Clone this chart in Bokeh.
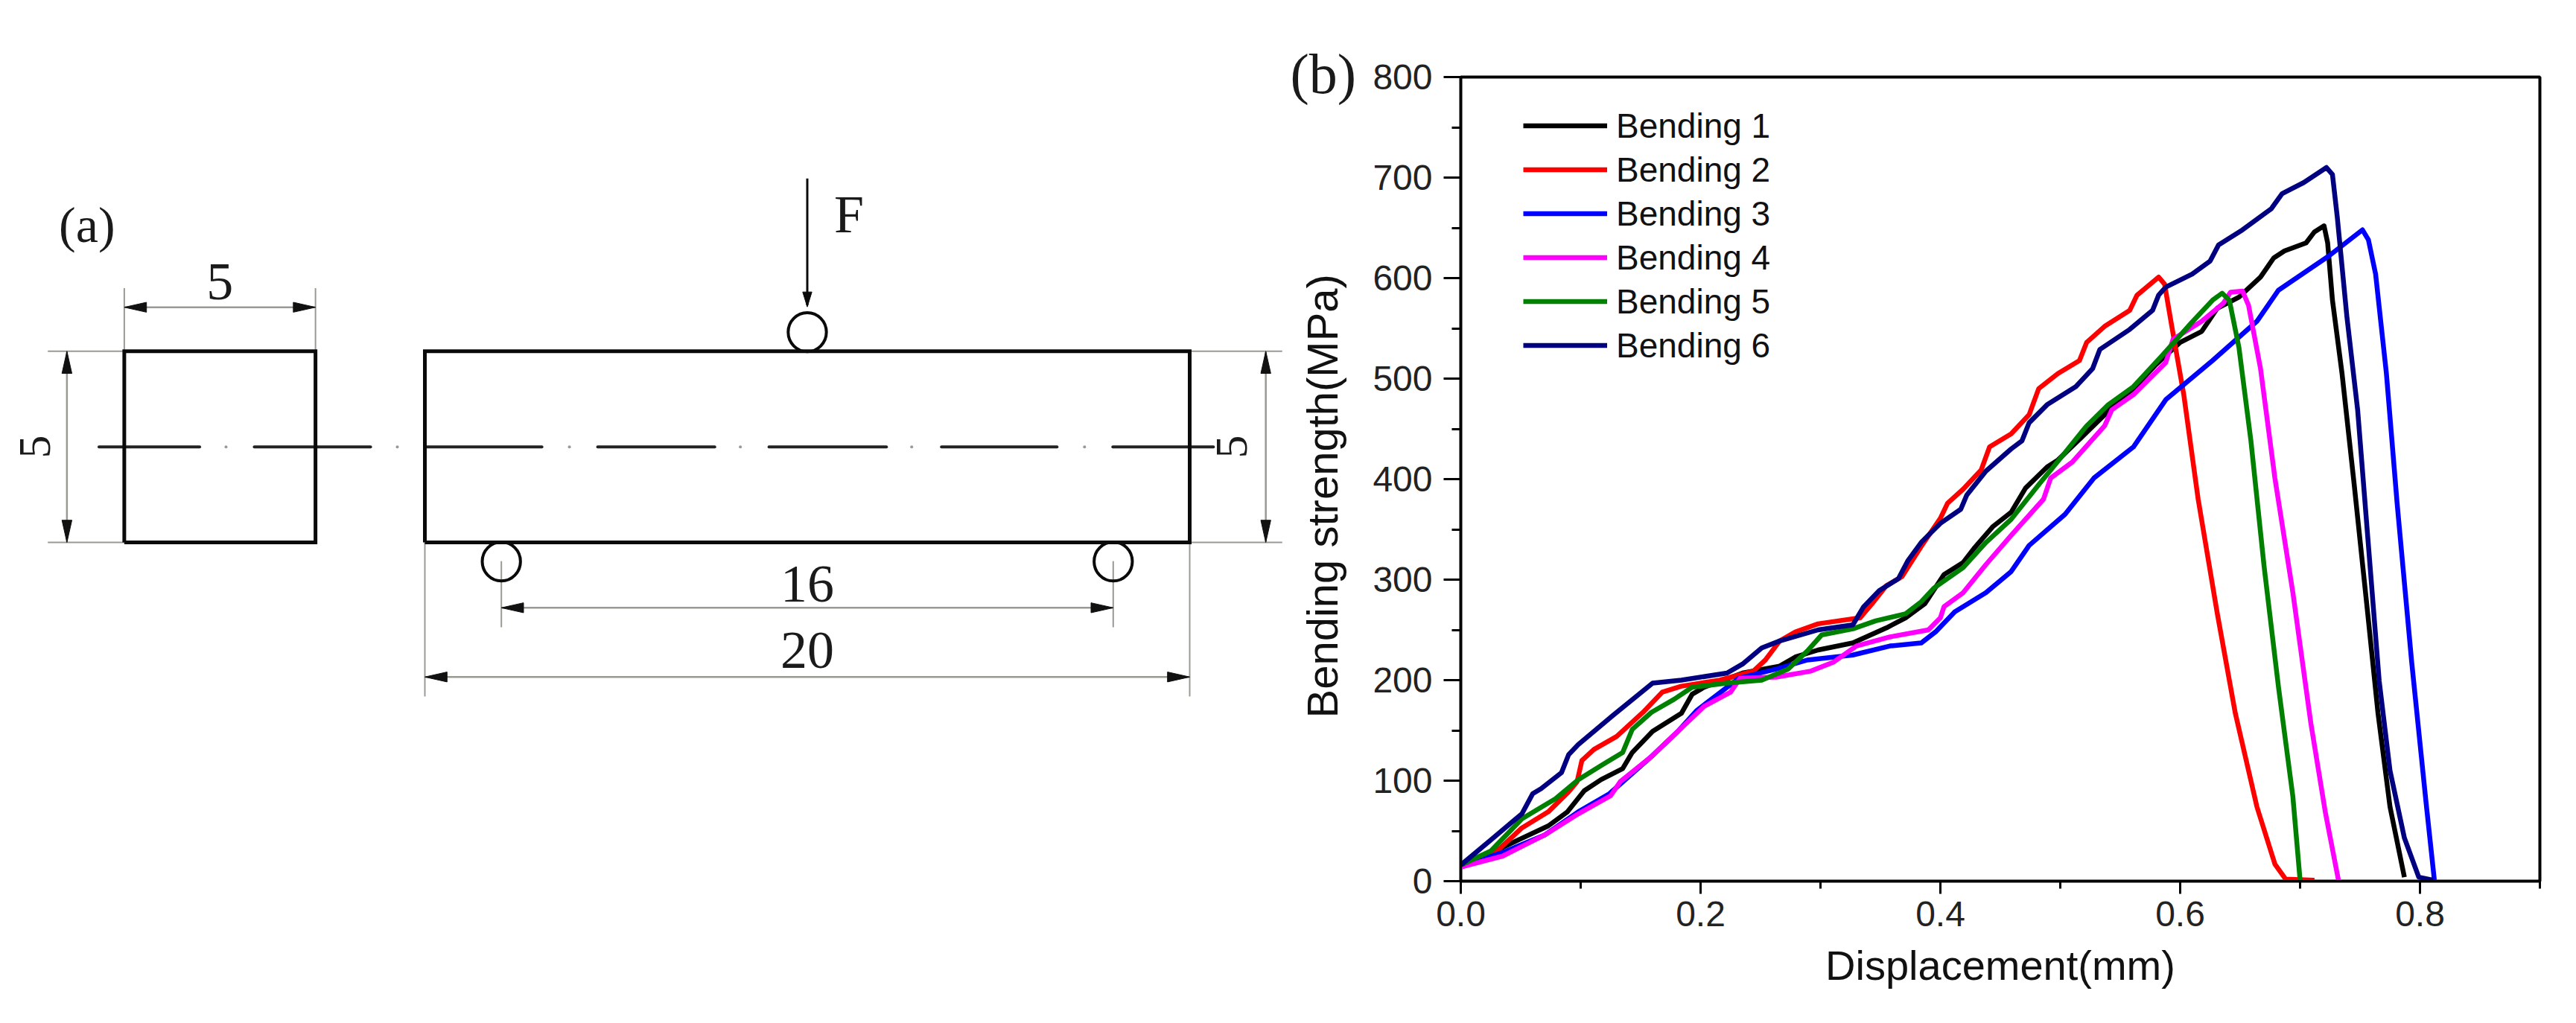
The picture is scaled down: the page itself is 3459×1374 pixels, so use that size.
from bokeh.plotting import figure
from bokeh.layouts import row
from bokeh.models import Range1d, FixedTicker, Legend, LegendItem, Title, NumeralTickFormatter
from bokeh.core.properties import value
from bokeh.embed import file_html
from bokeh.resources import INLINE

SANS = "Liberation Sans"
SERIF = "Liberation Serif"

# ---------- panel (b) data ----------
x1 = [0,.025,.048,.073,.089,.103,.117,.135,.143,.160,.184,.193,.203,.235,.266,.279,.298,.327,.355,.371,.387,.403,.419,.428,.444,.459,.471,.489,.498,.519,.537,.540,.561,.579,.600,.618,.631,.649,.667,.678,.687,.705,.712,.720,.723,.727,.735,.745,.756,.765,.775,.787]
y1 = [16,28,41,55,69,90,101,112,128,149,167,186,193,207,214,223,230,237,252,262,276,305,317,331,353,367,391,412,419,443,464,471,490,513,536,547,570,581,601,620,627,635,646,652,635,578,505,396,271,167,74,4]
x2 = [0,.032,.051,.073,.090,.097,.101,.111,.130,.152,.168,.184,.216,.244,.254,.266,.279,.298,.333,.343,.355,.368,.384,.400,.406,.419,.434,.441,.459,.474,.482,.498,.516,.522,.537,.558,.564,.582,.587,.593,.603,.615,.631,.646,.664,.679,.688,.712]
y2 = [16,32,53,69,89,99,120,131,144,168,188,194,200,209,220,239,248,256,262,276,294,303,333,361,376,390,409,432,445,464,490,505,518,536,552,568,583,601,594,552,484,380,266,167,74,17,2,1]
x3 = [0,.038,.070,.098,.124,.159,.181,.197,.232,.263,.289,.327,.358,.384,.396,.412,.438,.459,.474,.504,.528,.561,.588,.627,.664,.682,.724,.752,.757,.763,.772,.781,.793,.805,.812]
y3 = [14,30,46,69,87,124,149,170,202,211,220,225,234,237,248,268,287,308,334,365,401,432,479,518,557,588,622,648,638,604,505,375,219,79,1]
x4 = [0,.035,.070,.098,.125,.133,.159,.181,.203,.225,.233,.263,.292,.311,.330,.358,.390,.400,.403,.419,.438,.459,.486,.492,.510,.537,.543,.561,.588,.594,.618,.636,.642,.652,.657,.667,.679,.694,.709,.721,.732]
y4 = [14,25,46,67,85,99,124,149,174,188,202,203,209,218,234,243,250,262,273,287,315,344,380,401,417,453,469,484,516,539,557,575,586,587,573,510,401,287,157,69,1]
x5 = [0,.025,.051,.079,.098,.117,.135,.143,.159,.178,.193,.222,.251,.273,.289,.301,.327,.346,.371,.384,.395,.419,.438,.459,.483,.501,.522,.540,.561,.585,.609,.627,.635,.641,.649,.659,.670,.682,.694,.700]
y5 = [16,30,62,82,101,115,128,151,168,181,193,197,200,211,229,245,251,259,266,278,292,312,337,360,396,422,453,474,492,523,555,578,585,578,531,438,313,193,84,1]
x6 = [0,.025,.051,.060,.067,.084,.090,.098,.127,.160,.184,.222,.235,.251,.266,.298,.327,.336,.349,.365,.373,.384,.400,.417,.422,.438,.459,.468,.474,.489,.513,.527,.533,.558,.577,.582,.588,.610,.625,.632,.652,.676,.685,.703,.722,.727,.731,.739,.748,.757,.766,.775,.787,.799,.811]
y6 = [16,41,67,87,92,108,126,136,165,197,200,207,216,232,239,250,255,273,289,301,319,337,356,370,384,408,430,438,456,474,492,510,529,549,568,583,591,604,617,633,648,669,684,695,710,703,661,562,469,334,199,110,43,4,1]

series_names = ["Bending 1", "Bending 2", "Bending 3", "Bending 4", "Bending 5", "Bending 6"]
series_colors = ["#000000", "#ff0000", "#0000ff", "#ff00ff", "#008000", "#000080"]
x_major = [0, .2, .4, .6, .8]
x_minor = [.1, .3, .5, .7, .9]
y_major = [0, 100, 200, 300, 400, 500, 600, 700, 800]
y_minor = [50, 150, 250, 350, 450, 550, 650, 750]

# ---------- panel (a) dimensions, in mm ----------
beam_len = 20
beam_h = 5
span = 16
section_x = -7.86
roller_d = 1.0

PX_MM = 51.35
ORIGIN_X, ORIGIN_Y = 570, 728   # page position of the beam's lower left corner
SPLIT = 1726                    # page x where panel (a)'s figure ends
OVERLAP = 36                    # panel (b)'s transparent border lies over panel (a)'s edge
PAGE_H = 1360
FR_L, FR_R, FR_T, FR_B = 1961, 3410, 103, 1183
PAGE_R = 3455

a = figure(width=SPLIT, height=PAGE_H,
           x_range=Range1d(-ORIGIN_X / PX_MM, (SPLIT - ORIGIN_X) / PX_MM),
           y_range=Range1d((ORIGIN_Y - FR_B) / PX_MM, (ORIGIN_Y - FR_T) / PX_MM),
           output_backend="svg", toolbar_location=None,
           x_axis_location=None, y_axis_location=None,
           min_border_left=0, min_border_right=0,
           min_border_top=FR_T, min_border_bottom=PAGE_H - FR_B)
a.grid.visible = False
a.outline_line_color = None
a.background_fill_color = "white"

GRAY = "#9a9a94"
ext_x = [[section_x, section_x], [section_x + 5, section_x + 5],
         [-9.86, section_x], [-9.86, section_x],
         [beam_len, 22.42], [beam_len, 22.42],
         [0, 0], [beam_len, beam_len], [2, 2], [18, 18]]
ext_y = [[beam_h, 6.65], [beam_h, 6.65],
         [beam_h, beam_h], [0, 0],
         [beam_h, beam_h], [0, 0],
         [0, -4.03], [0, -4.03], [-0.49, -2.22], [-0.49, -2.22]]
dim_x = [[section_x, section_x + 5], [-9.36, -9.36], [21.99, 21.99], [0, beam_len], [2, 18]]
dim_y = [[6.15, 6.15], [0, beam_h], [0, beam_h], [-3.52, -3.52], [-1.71, -1.71]]
a.multi_line(ext_x, ext_y, line_color=GRAY, line_width=2)
a.multi_line(dim_x, dim_y, line_color=GRAY, line_width=2.5)

AL, AW = 0.58, 0.13
hx, hy = [], []
for (xa, xb), (ya, yb) in zip(dim_x, dim_y):
    if ya == yb:
        hx += [[xa, xa + AL, xa + AL], [xb, xb - AL, xb - AL]]
        hy += [[ya, ya + AW, ya - AW], [yb, yb + AW, yb - AW]]
    else:
        hx += [[xa, xa + AW, xa - AW], [xb, xb + AW, xb - AW]]
        hy += [[ya, ya + AL, ya + AL], [yb, yb - AL, yb - AL]]
a.patches(hx, hy, fill_color="#111111", line_color="#111111", line_width=1)

# centre line
dash_x = [[-8.52, -5.89], [-4.46, -1.42], [0.02, 3.06], [4.52, 7.58], [9.0, 12.07], [13.51, 16.53], [17.99, 20.62]]
dash_y = [[beam_h / 2] * 2 for _ in dash_x]
dot_x = [-5.20, -0.72, 3.78, 8.25, 12.73, 17.25]
a.multi_line(dash_x, dash_y, line_color="#222222", line_width=4, line_cap="round")
a.scatter(dot_x, [beam_h / 2] * len(dot_x), size=4, marker="circle", fill_color=GRAY, line_color=None)

# bodies
a.multi_line([[section_x, section_x + 5, section_x + 5, section_x, section_x],
              [0, beam_len, beam_len, 0, 0]],
             [[0, 0, beam_h, beam_h, 0], [0, 0, beam_h, beam_h, 0]],
             line_color="#0a0a0a", line_width=5, line_join="miter")

# rollers and load
a.ellipse([beam_len / 2, 2, 18], [beam_h + roller_d / 2, -roller_d / 2, -roller_d / 2],
          width=roller_d, height=roller_d * 1.02,
          fill_color=None, line_color="#0a0a0a", line_width=4)
a.line([beam_len / 2, beam_len / 2], [9.52, 6.2], line_color="#0a0a0a", line_width=3)
a.patch([beam_len / 2, beam_len / 2 + .12, beam_len / 2 - .12], [6.16, 6.55, 6.55],
        fill_color="#0a0a0a", line_color="#0a0a0a")

def serif(x, y, t, size, angle=0.0, align="center"):
    a.text([x], [y], text=[t], text_font=value(SERIF), text_font_size=f"{size}px",
           text_color="#1a1a1a", text_align=align, text_baseline="middle", angle=angle)

serif(-9.57, 8.31, "(a)", 68, align="left")
serif(-5.36, 6.81, "5", 72)
serif(-10.2, 2.5, "5", 62, angle=1.5708)
serif(21.1, 2.5, "5", 62, angle=1.5708)
serif(11.09, 8.58, "F", 72)
serif(10, -1.09, "16", 72)
serif(10, -2.82, "20", 72)

# ---------- panel (b) ----------
b = figure(width=PAGE_R - SPLIT + OVERLAP, height=PAGE_H,
           x_range=Range1d(0, 0.9), y_range=Range1d(0, 800),
           output_backend="svg", toolbar_location=None,
           margin=(0, 0, 0, -OVERLAP),
           min_border_left=FR_L - SPLIT + OVERLAP, min_border_right=PAGE_R - FR_R,
           min_border_top=FR_T, min_border_bottom=PAGE_H - FR_B,
           x_axis_label="Displacement(mm)")
b.grid.visible = False
b.border_fill_color = None
b.outline_line_color = "black"
b.outline_line_width = 4

b.xaxis.ticker = FixedTicker(ticks=x_major, minor_ticks=x_minor)
b.yaxis.ticker = FixedTicker(ticks=y_major, minor_ticks=y_minor)
b.xaxis.formatter = NumeralTickFormatter(format="0.0")
for ax in (b.xaxis, b.yaxis):
    ax.axis_line_width = 3
    ax.major_tick_line_width = 3
    ax.minor_tick_line_width = 3
    ax.major_tick_in = 0
    ax.minor_tick_in = 0
    ax.major_label_text_font = SANS
    ax.axis_label_text_font = SANS
    ax.axis_label_text_font_style = "normal"
    ax.axis_label_text_font_size = "56px"
    ax.axis_label_text_color = "#111111"
    ax.major_label_text_color = "#222222"
b.xaxis.major_tick_out = 17
b.xaxis.minor_tick_out = 10
b.yaxis.major_tick_out = 23
b.yaxis.minor_tick_out = 12
b.xaxis.major_label_text_font_size = "48px"
b.yaxis.major_label_text_font_size = "48px"
b.xaxis.major_label_standoff = 10
b.yaxis.major_label_standoff = 15
b.xaxis.axis_label_standoff = 18

xs = [x1, x2, x3, x4, x5, x6]
ys = [y1, y2, y3, y4, y5, y6]
items = []
for name, color, xv, yv in zip(series_names, series_colors, xs, ys):
    r = b.line(xv, yv, line_color=color, line_width=6.5, line_join="round")
    items.append(LegendItem(label=name, renderers=[r]))

leg = Legend(items=items, location=(2045 - FR_L, 690),
             margin=0, padding=0, spacing=0,
             glyph_width=113, glyph_height=59, label_height=59, label_standoff=12,
             label_text_font=SANS, label_text_font_size="46px", label_text_color="#111111",
             border_line_color=None, background_fill_alpha=0)
b.add_layout(leg)

b.add_layout(Title(text="(b)", align="left", offset=-(FR_L - 1732),
                   standoff=-74, text_font=SERIF, text_font_size="76px", text_font_style="normal",
                   text_color="#1a1a1a"), "above")
b.add_layout(Title(text="Bending strength(MPa)", align="left", offset=219, standoff=66,
                   text_font=SANS, text_font_size="58px", text_font_style="normal",
                   text_color="#111111"), "left")

open("out.html", "w").write(file_html(row(a, b, spacing=0), INLINE))
